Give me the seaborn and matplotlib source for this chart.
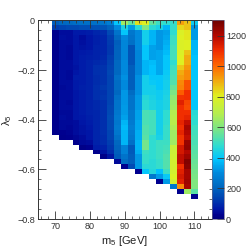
import numpy as np
import pandas as pd
import seaborn as sns
import matplotlib
matplotlib.use("Agg")
import matplotlib.pyplot as plt
from matplotlib.colors import LinearSegmentedColormap
from matplotlib.ticker import MultipleLocator

# one list per m5 bin, top row (lambda5 = 0) first
m_69 = [190,130,25,25,25,25,25,25,25,25,25,25,25,25,25,25,25,25,25,25,25,25,25]
m_71 = [210,140,50,55,50,50,50,50,50,50,50,50,50,45,50,50,50,50,45,50,45,45,30,25]
m_73 = [215,150,50,50,50,45,45,45,50,50,45,45,50,50,50,50,45,50,45,45,45,40,35,30]
m_75 = [225,150,70,65,65,65,65,65,65,60,65,75,70,70,65,65,65,65,65,65,50,50,50,40,25]
m_77 = [230,160,70,50,55,60,70,75,75,75,75,75,75,80,75,75,75,75,75,70,65,60,60,50,45,20]
m_79 = [230,160,75,65,65,65,75,80,85,85,85,85,85,85,85,85,85,85,85,80,75,70,65,65,50,30]
m_81 = [235,165,90,80,80,85,85,85,95,105,105,100,100,105,105,105,95,95,90,90,90,90,90,90,85,75,25]
m_83 = [245,170,100,90,90,90,90,95,100,110,110,110,110,120,110,115,105,105,105,105,105,105,105,100,100,85,60,20]
m_85 = [270,200,150,130,125,120,120,130,135,140,145,140,140,140,140,140,140,145,150,155,150,150,140,140,130,120,100,60]
m_87 = [400,300,240,210,190,195,200,200,210,210,210,230,220,220,210,230,240,240,250,260,250,260,250,230,210,200,190,180,45]
m_89 = [650,440,400,300,290,290,290,290,300,300,300,310,300,300,320,320,320,330,330,340,370,380,370,370,370,280,280,240,220,30]
m_91 = [550,330,250,240,230,170,170,170,170,190,190,190,190,190,220,240,240,240,250,250,260,270,260,250,230,180,180,190,190,150]
m_93 = [830,470,300,300,300,300,290,290,290,290,290,310,310,310,310,330,330,330,340,340,350,350,360,360,370,370,360,320,320,320,30]
m_95 = [800,600,430,430,430,400,400,400,370,370,370,430,430,430,430,460,470,470,520,520,520,530,530,540,580,580,500,490,490,470,400]
m_97 = [550,470,370,370,370,340,340,340,380,390,390,400,410,430,430,440,450,450,510,510,510,510,510,480,480,480,480,480,470,470,460,250]
m_99 = [500,440,320,320,320,320,350,350,350,350,350,400,400,400,420,420,430,430,430,430,430,430,430,440,500,500,500,500,490,490,390,330,30]
m_101 = [480,370,340,350,360,370,380,400,400,400,410,420,430,430,440,450,450,450,480,480,480,490,490,490,500,510,520,530,530,530,500,410,330]
m_103 = [490,490,480,500,500,510,510,510,480,500,510,520,530,560,590,620,640,650,690,700,700,680,650,650,650,740,750,760,770,770,770,790,760,250]
m_105 = [920,840,790,800,790,790,790,800,800,860,900,920,950,960,1020,1090,1130,1100,1100,1100,1120,1100,1120,1090,1090,1150,1150,1180,1180,1100,1130,1150,1130,950,30]
m_107 = [870,870,820,820,800,800,870,900,900,930,950,950,1040,1040,1100,1100,1060,1050,1100,1120,1180,1220,1200,1180,1240,1250,1200,1230,1270,1260,1220,1220,1230,1220,650]
m_109 = [420,320,330,330,370,370,380,390,390,390,400,400,400,400,400,400,400,400,470,480,480,500,510,520,520,530,540,550,560,570,580,590,600,600,540,30]

m_values = [69,71,73,75,77,79,81,83,85,87,89,91,93,95,97,99,101,103,105,107,109]
m_columns = [m_69,m_71,m_73,m_75,m_77,m_79,m_81,m_83,m_85,m_87,m_89,m_91,m_93,m_95,m_97,m_99,m_101,m_103,m_105,m_107,m_109]

rows = []
for m, col in zip(m_values, m_columns):
    for i, v in enumerate(col):
        rows.append((m, -0.01 - 0.02 * i, v))
df = pd.DataFrame(rows, columns=["m", "lam", "n"])

root_cmap = LinearSegmentedColormap.from_list("rootrainbow", [
    (0.0, "#00007f"), (0.02, "#00008f"), (0.05, "#0018a8"), (0.10, "#0040b0"), (0.16, "#0068c0"), (0.23, "#0088dc"),
    (0.30, "#00c4ff"), (0.37, "#30dcd0"), (0.44, "#70e490"), (0.53, "#b4ee50"),
    (0.62, "#e0f020"), (0.69, "#f0b010"), (0.77, "#ff6800"), (0.85, "#f02c00"),
    (0.92, "#b80800"), (1.0, "#700000")])

plt.rcParams['font.family'] = ['Liberation Sans', 'DejaVu Sans']
plt.rcParams['mathtext.fontset'] = 'custom'
plt.rcParams['mathtext.rm'] = 'Liberation Sans'
plt.rcParams['mathtext.it'] = 'Liberation Sans'
plt.rcParams['mathtext.default'] = 'regular'

fig = plt.figure(figsize=(2.49, 2.49), dpi=100)
ax = fig.add_axes([37.7/249, 30/249, 174/249, 198.5/249])
cax = fig.add_axes([212/249, 30/249, 12/249, 198.5/249])

sns.histplot(data=df, x="m", y="lam", weights="n",
             bins=[np.arange(69, 112, 2), np.arange(-0.72, 0.001, 0.02)],
             cmap=root_cmap, vmin=0, vmax=1300, cbar=True, cbar_ax=cax, ax=ax)

ax.set_xlim(65, 115)
ax.set_ylim(-0.8, 0)
ax.set_xticks([70, 80, 90, 100, 110])
ax.set_yticks([-0.8, -0.6, -0.4, -0.2, 0])
ax.set_yticklabels(["\u22120.8", "\u22120.6", "\u22120.4", "\u22120.2", "0"])
ax.xaxis.set_minor_locator(MultipleLocator(2))
ax.yaxis.set_minor_locator(MultipleLocator(0.04))
ax.tick_params(which="major", direction="in", length=5.5, width=0.6, top=True, right=True,
               labelsize=6.5, pad=2, color="#333333", labelcolor="#333333")
ax.tick_params(which="minor", direction="in", length=2.5, width=0.5, top=True, right=True, color="#333333")
ax.set_xlabel("m$_{5}$ [GeV]", fontsize=8, labelpad=2, color="#222222")
ax.set_ylabel("\u03bb$_{5}$", fontsize=8, labelpad=2, color="#222222")
for s in ax.spines.values():
    s.set_linewidth(0.7)
    s.set_color("#333333")

cax.set_yticks([0, 200, 400, 600, 800, 1000, 1200])
cax.tick_params(direction="in", length=5, width=0.6, labelsize=6.5, pad=1.5, color="#333333", labelcolor="#333333")
cax.minorticks_off()
for s in cax.spines.values():
    s.set_linewidth(0.5)
    s.set_color("#666688")

fig.savefig("out.png", dpi=100)
